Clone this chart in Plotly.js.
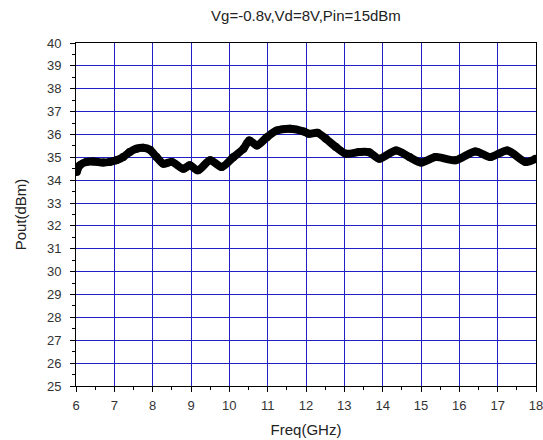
<!DOCTYPE html>
<html>
<head>
<meta charset="utf-8">
<script src="https://cdn.plot.ly/plotly-3.0.1.min.js"></script>
<style>html,body{margin:0;padding:0;background:#fff;}#chart{width:543px;height:440px;}</style>
</head>
<body>
<div id="chart"></div>
<script>
const freqGHz = [6.02, 6.1, 6.27, 6.45, 6.71, 6.88, 7.05, 7.23, 7.4, 7.58, 7.75, 7.93, 8.1, 8.28, 8.5, 8.8, 8.97,
  9.18, 9.5, 9.8, 10.1, 10.37, 10.52, 10.72, 10.98, 11.24, 11.59, 11.94, 12.07, 12.3, 12.52, 12.78, 13.04,
  13.39, 13.65, 13.91, 14.35, 14.7, 15.0, 15.38, 15.9, 16.42, 16.81, 17.25, 17.73, 17.99];
const poutDBm = [34.36, 34.65, 34.8, 34.82, 34.77, 34.8, 34.87, 35.01, 35.23, 35.38, 35.42, 35.33, 35.01, 34.72, 34.8, 34.5, 34.65,
  34.43, 34.87, 34.58, 35.0, 35.38, 35.74, 35.52, 35.88, 36.17, 36.25, 36.13, 36.03, 36.07, 35.81, 35.45, 35.16,
  35.23, 35.22, 34.94, 35.3, 35.01, 34.77, 35.01, 34.87, 35.26, 35.01, 35.3, 34.8, 34.94];
const xTicks = [6, 7, 8, 9, 10, 11, 12, 13, 14, 15, 16, 17, 18];
const yTicks = [25, 26, 27, 28, 29, 30, 31, 32, 33, 34, 35, 36, 37, 38, 39, 40];
const titleText = 'Vg=-0.8v,Vd=8V,Pin=15dBm';
const xTitle = 'Freq(GHz)';
const yTitle = 'Pout(dBm)';

const font = '"Liberation Sans", Arial, sans-serif';
const trace = {
  x: freqGHz, y: poutDBm, type: 'scatter', mode: 'lines+markers',
  line: {color: '#000', width: 8, shape: 'spline', smoothing: 0.8},
  marker: {color: '#000', size: 8},
  showlegend: false, hoverinfo: 'skip'
};
const axisCommon = {
  showline: true, linecolor: '#000', linewidth: 1, mirror: true,
  showgrid: true, gridcolor: '#2020c4', gridwidth: 1,
  ticks: 'outside', ticklen: 5, tickwidth: 1, tickcolor: '#000',
  tickfont: {family: font, size: 13, color: '#333'},
  ticklabeloverflow: 'allow',
  zeroline: false,
  minor: {dtick: 0.5, ticks: 'outside', ticklen: 3, tickcolor: '#000', showgrid: false}
};
const layout = {
  width: 543, height: 440,
  margin: {l: 76, r: 7, t: 43, b: 54},
  paper_bgcolor: '#fff', plot_bgcolor: '#fff',
  title: {text: titleText, font: {family: font, size: 15, color: '#222'}, x: 0.5635, xanchor: 'center', y: 0.965, yanchor: 'middle'},
  xaxis: Object.assign({}, axisCommon, {
    range: [6, 18], tickmode: 'array', tickvals: xTicks, ticktext: xTicks.map(String),
    ticklabelstandoff: 2,
    title: {text: xTitle, font: {family: font, size: 15, color: '#222'}, standoff: 12}
  }),
  yaxis: Object.assign({}, axisCommon, {
    range: [25, 40], tickmode: 'array', tickvals: yTicks, ticktext: yTicks.map(String),
    ticklabelstandoff: 6,
    title: {text: yTitle, font: {family: font, size: 15, color: '#222'}, standoff: 16}
  })
};
Plotly.newPlot('chart', [trace], layout, {displayModeBar: false, staticPlot: true});
</script>
</body>
</html>
